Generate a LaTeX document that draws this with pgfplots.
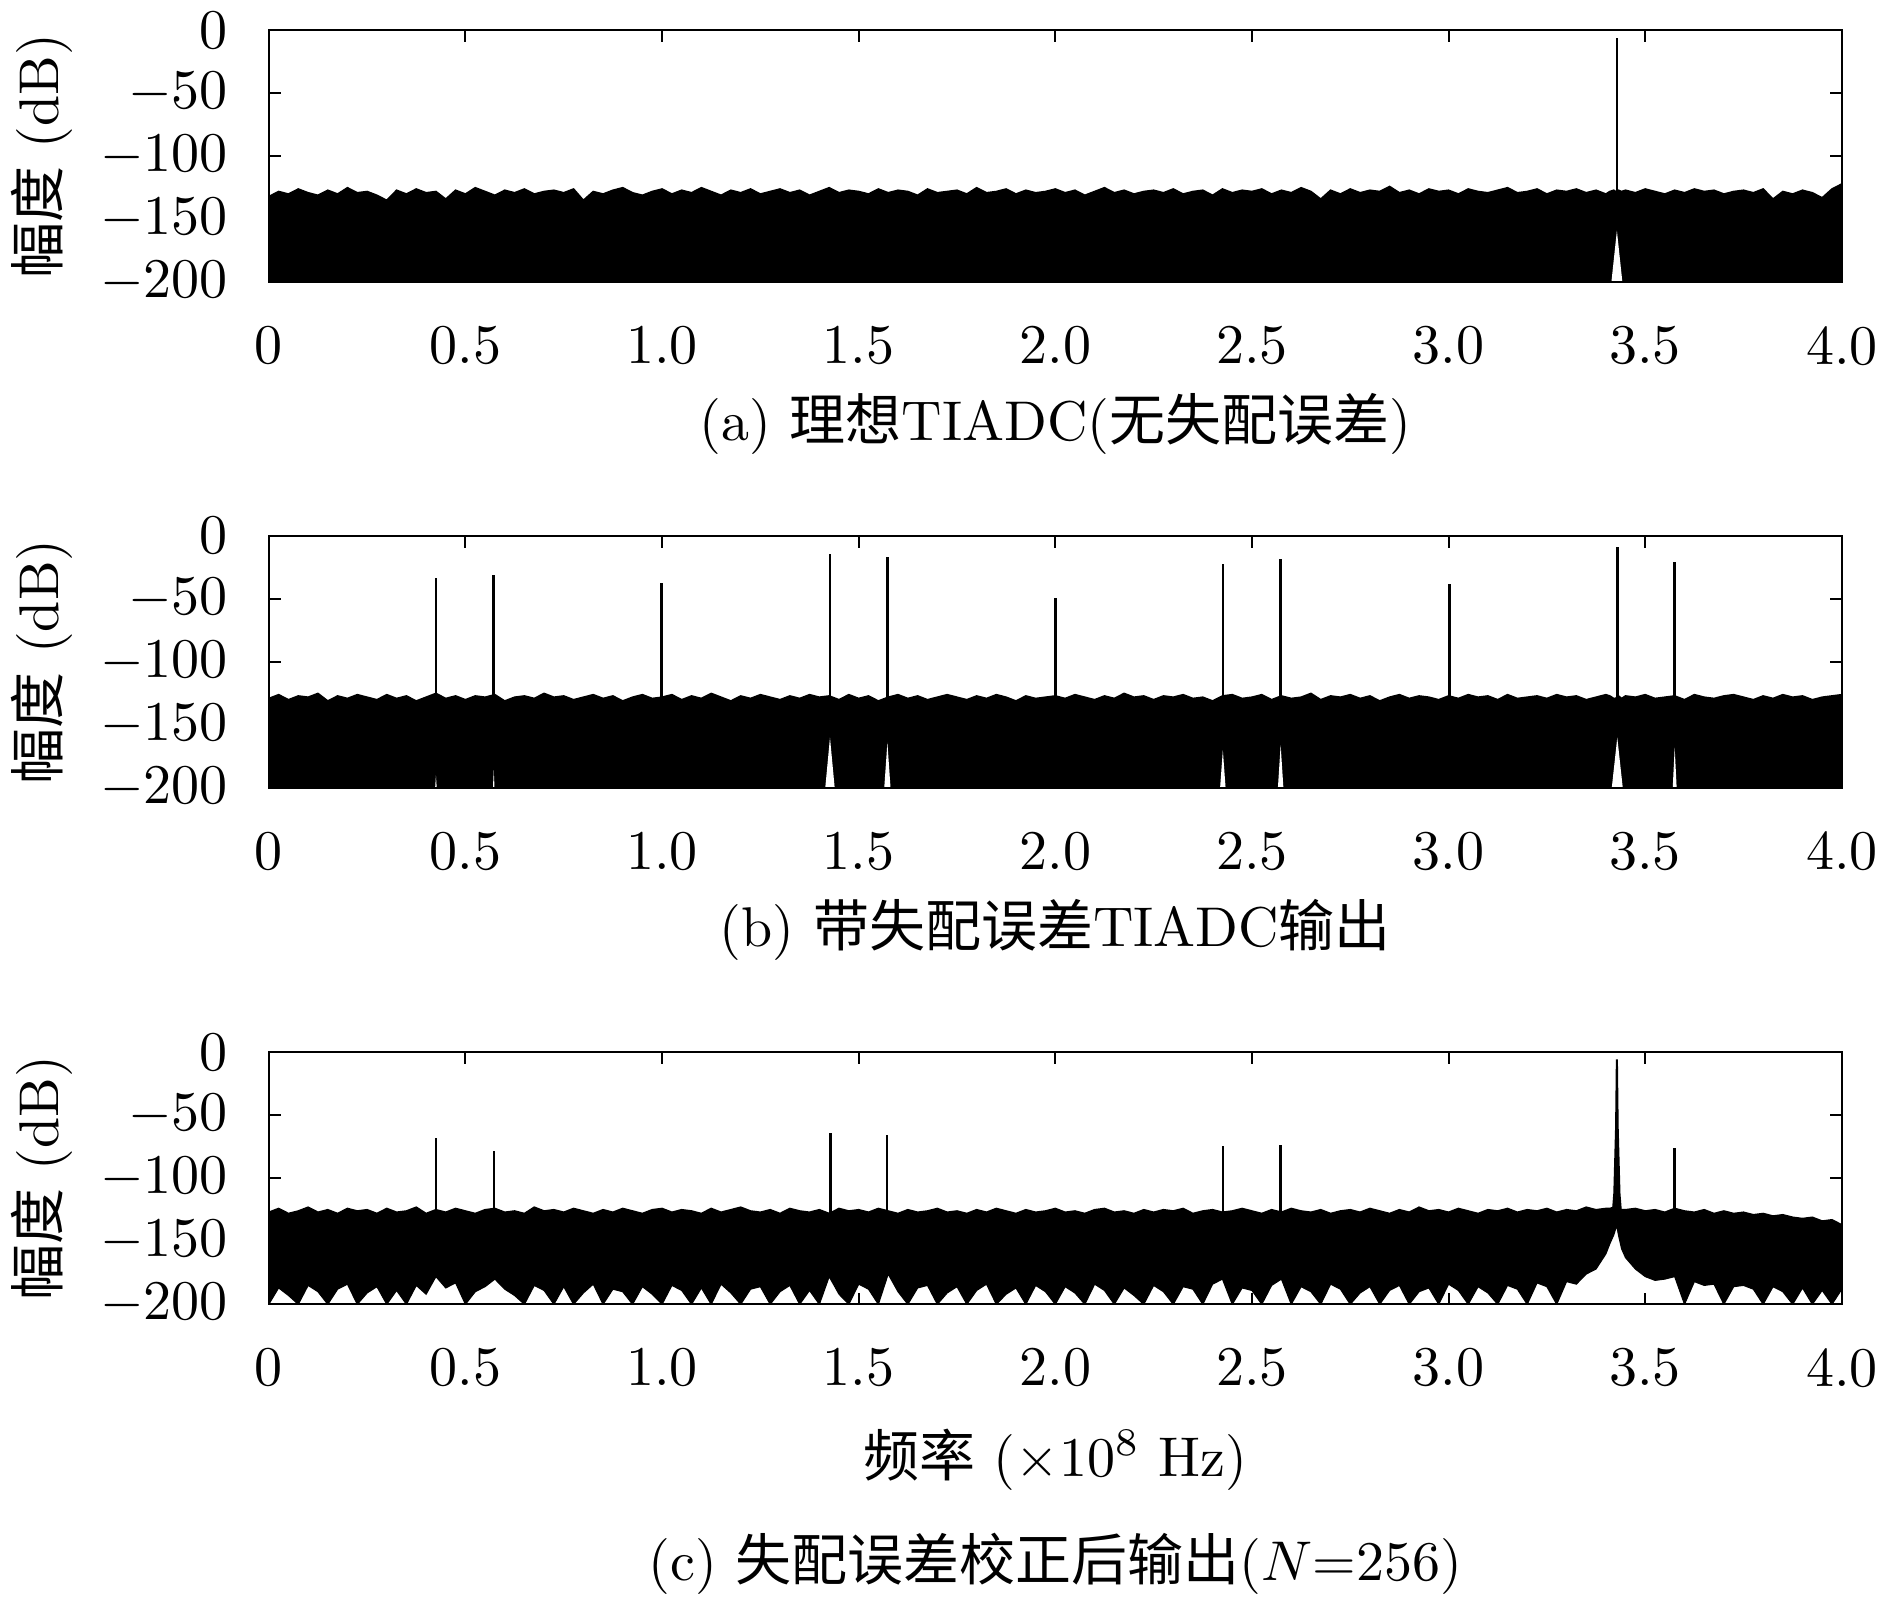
\documentclass[border=0pt]{standalone}
\usepackage{pgfplots}
\pgfplotsset{compat=1.18}
\usepackage{pgfplotstable}
\usepgfplotslibrary{fillbetween}
\usepackage{fontspec}
\newfontfamily\cjk{Noto Sans CJK SC}

\pgfplotstableread{
x ua ub uc lc
0 -132 -129 -127 -200
0.025 -128 -126 -124 -187
0.05 -130 -130 -128 -193
0.075 -126 -127 -126 -200
0.1 -129 -128 -123 -185
0.125 -131 -125 -127 -190
0.15 -127 -131 -125 -200
0.175 -130 -127 -128 -188
0.2 -125 -129 -124 -184
0.225 -129 -126 -126 -200
0.25 -128 -128 -125 -191
0.275 -131 -130 -128 -186
0.3 -135 -126 -124 -200
0.325 -127 -129 -127 -189
0.35 -130 -127 -126 -200
0.375 -126 -131 -123 -185
0.4 -129 -128 -128 -192
0.425 -128 -125 -125 -178
0.45 -134 -129 -127 -187
0.475 -127 -127 -124 -183
0.5 -130 -130 -126 -200
0.525 -125 -127 -128 -190
0.55 -128 -128 -125 -186
0.575 -131 -126 -124 -180
0.6 -127 -131 -127 -188
0.625 -129 -128 -126 -193
0.65 -126 -127 -128 -200
0.675 -130 -129 -123 -185
0.7 -128 -125 -126 -189
0.725 -127 -128 -125 -200
0.75 -129 -127 -127 -186
0.775 -126 -130 -124 -200
0.8 -135 -128 -126 -191
0.825 -128 -126 -128 -184
0.85 -130 -129 -125 -200
0.875 -127 -127 -127 -188
0.9 -125 -131 -124 -190
0.925 -129 -128 -126 -200
0.95 -131 -126 -128 -186
0.975 -128 -129 -125 -192
1 -126 -128 -124 -200
1.025 -130 -126 -127 -185
1.05 -127 -130 -125 -189
1.075 -129 -127 -126 -200
1.1 -125 -129 -128 -187
1.125 -128 -125 -124 -200
1.15 -131 -128 -127 -184
1.175 -127 -131 -125 -191
1.2 -129 -127 -123 -200
1.225 -126 -129 -126 -188
1.25 -130 -126 -127 -186
1.275 -128 -128 -125 -200
1.3 -126 -130 -128 -190
1.325 -129 -127 -124 -185
1.35 -127 -129 -126 -200
1.375 -131 -126 -127 -189
1.4 -128 -128 -125 -200
1.425 -125 -127 -128 -178
1.45 -129 -130 -124 -192
1.475 -127 -126 -126 -200
1.5 -128 -129 -125 -184
1.525 -130 -127 -127 -188
1.55 -126 -131 -124 -200
1.575 -129 -128 -126 -176
1.6 -127 -126 -128 -190
1.625 -128 -129 -125 -200
1.65 -131 -127 -127 -187
1.675 -126 -130 -126 -185
1.7 -129 -128 -124 -200
1.725 -128 -126 -127 -191
1.75 -127 -128 -126 -186
1.775 -130 -130 -128 -200
1.8 -125 -127 -125 -189
1.825 -129 -129 -127 -184
1.85 -128 -126 -124 -200
1.875 -126 -128 -126 -192
1.9 -130 -131 -128 -187
1.925 -127 -127 -125 -200
1.95 -129 -129 -127 -185
1.975 -128 -128 -126 -190
2 -126 -127 -124 -200
2.025 -129 -129 -127 -186
2.05 -127 -126 -126 -191
2.075 -131 -128 -128 -200
2.1 -128 -130 -125 -184
2.125 -125 -127 -124 -189
2.15 -129 -129 -127 -200
2.175 -127 -125 -126 -187
2.2 -130 -128 -128 -193
2.225 -128 -127 -125 -200
2.25 -127 -130 -127 -185
2.275 -129 -127 -125 -190
2.3 -126 -128 -126 -200
2.325 -130 -126 -124 -186
2.35 -128 -129 -128 -188
2.375 -127 -128 -126 -200
2.4 -131 -131 -125 -184
2.425 -126 -127 -127 -180
2.45 -129 -126 -126 -200
2.475 -127 -129 -124 -187
2.5 -128 -128 -126 -189
2.525 -126 -126 -128 -200
2.55 -130 -130 -125 -185
2.575 -127 -127 -127 -180
2.6 -129 -129 -124 -200
2.625 -125 -128 -126 -186
2.65 -128 -125 -127 -190
2.675 -134 -130 -125 -200
2.7 -127 -127 -128 -184
2.725 -130 -128 -126 -188
2.75 -126 -126 -125 -200
2.775 -129 -129 -127 -191
2.8 -127 -127 -124 -186
2.825 -128 -131 -126 -200
2.85 -124 -128 -128 -189
2.875 -129 -126 -125 -185
2.9 -127 -129 -127 -200
2.925 -130 -127 -123 -190
2.95 -126 -128 -126 -187
2.975 -128 -130 -125 -200
3 -127 -127 -127 -184
3.025 -130 -129 -124 -189
3.05 -126 -126 -126 -200
3.075 -128 -128 -128 -186
3.1 -129 -127 -125 -191
3.125 -127 -130 -126 -200
3.15 -125 -126 -124 -185
3.175 -129 -129 -127 -188
3.2 -128 -128 -125 -200
3.225 -126 -127 -126 -183
3.25 -130 -129 -124 -186
3.275 -127 -126 -127 -200
3.3 -128 -128 -125 -182
3.325 -126 -127 -126 -184
3.35 -129 -130 -123 -176
3.375 -127 -128 -125 -172
3.4 -130 -126 -124 -160
3.41 -128 -127 -124 -152
3.42 -127 -129 -123 -145
3.425 -128 -129 -126 -140
3.428 -129 -128 -122 -138
3.432 -127 -127 -124 -145
3.44 -128 -129 -125 -156
3.45 -127 -127 -125 -163
3.475 -129 -128 -124 -172
3.5 -126 -126 -126 -178
3.525 -128 -129 -125 -181
3.55 -130 -128 -127 -180
3.575 -127 -127 -124 -178
3.6 -129 -130 -126 -200
3.625 -126 -126 -127 -182
3.65 -128 -128 -125 -185
3.675 -127 -129 -128 -184
3.7 -130 -127 -126 -200
3.725 -128 -126 -128 -186
3.75 -127 -128 -127 -185
3.775 -129 -130 -129 -188
3.8 -126 -127 -128 -200
3.825 -134 -129 -130 -186
3.85 -128 -126 -129 -190
3.875 -130 -128 -131 -200
3.9 -127 -127 -132 -187
3.925 -129 -130 -131 -200
3.95 -133 -128 -134 -189
3.975 -126 -127 -133 -200
4 -122 -126 -137 -188
}\noise

\tikzset{spike/.style={black, line width=0.45pt}}

\pgfplotsset{
  spec/.style={
    scale only axis, width=280.9pt, height=45pt,
    xmin=0, xmax=4, ymin=-200, ymax=0,
    xtick={0,0.5,1,1.5,2,2.5,3,3.5,4},
    xticklabels={0,0.5,1.0,1.5,2.0,2.5,3.0,3.5,4.0},
    ytick={-200,-150,-100,-50,0},
    major tick length=2.1pt,
    axis on top,
    axis line style={line width=0.35pt},
    every tick/.style={black, line width=0.35pt},
    xticklabel style={yshift=-4.3pt},
    yticklabel style={xshift=-3.8pt},
    ylabel={{\cjk 幅度} (dB)},
    every axis y label/.style={at={([xshift=-40.5pt]axis description cs:0,0.5)}, rotate=90, anchor=center},
    every axis x label/.style={at={([yshift=-25.3pt]axis description cs:0.5,0)}, anchor=center},
  }
}

\begin{document}
\begin{tikzpicture}

% (a)
\begin{axis}[spec, at={(0,0)}, anchor=north west,
  xlabel={(a) {\cjk 理想}TIADC({\cjk 无失配误差})}]
\addplot[black, line width=0.3pt, name path=ua] table[x=x, y=ua] {\noise};
\addplot[draw=none, name path=bot] coordinates {(0,-200) (4,-200)};
\addplot[black] fill between[of=ua and bot];
\addplot[spike] coordinates {(3.428,-135) (3.428,-6)};
\addplot[fill=white, draw=none] coordinates {(3.414,-200) (3.428,-159) (3.442,-200)};
\end{axis}

% (b)
\begin{axis}[spec, at={(0,-90.3pt)}, anchor=north west,
  xlabel={(b) {\cjk 带失配误差}TIADC{\cjk 输出}}]
\addplot[black, line width=0.3pt, name path=ub] table[x=x, y=ub] {\noise};
\addplot[draw=none, name path=bot] coordinates {(0,-200) (4,-200)};
\addplot[black] fill between[of=ub and bot];
\addplot[spike] coordinates {(0.425,-135) (0.425,-33)};
\addplot[spike] coordinates {(0.572,-135) (0.572,-31)};
\addplot[spike] coordinates {(0.998,-135) (0.998,-37)};
\addplot[spike] coordinates {(1.427,-135) (1.427,-14)};
\addplot[spike] coordinates {(1.573,-135) (1.573,-17)};
\addplot[spike] coordinates {(2.000,-135) (2.000,-49)};
\addplot[spike] coordinates {(2.426,-135) (2.426,-22.5)};
\addplot[spike] coordinates {(2.573,-135) (2.573,-18.5)};
\addplot[spike] coordinates {(3.002,-135) (3.002,-38.3)};
\addplot[spike] coordinates {(3.429,-135) (3.429,-8.7)};
\addplot[spike] coordinates {(3.575,-135) (3.575,-20.8)};
\addplot[fill=white, draw=none] coordinates {(0.423,-200) (0.425,-190) (0.427,-200)};
\addplot[fill=white, draw=none] coordinates {(0.570,-200) (0.572,-186) (0.574,-200)};
\addplot[fill=white, draw=none] coordinates {(1.415,-200) (1.427,-160) (1.439,-200)};
\addplot[fill=white, draw=none] coordinates {(1.565,-200) (1.573,-164) (1.581,-200)};
\addplot[fill=white, draw=none] coordinates {(2.419,-200) (2.426,-170) (2.433,-200)};
\addplot[fill=white, draw=none] coordinates {(2.566,-200) (2.573,-166) (2.580,-200)};
\addplot[fill=white, draw=none] coordinates {(3.415,-200) (3.429,-160) (3.443,-200)};
\addplot[fill=white, draw=none] coordinates {(3.570,-200) (3.575,-168) (3.580,-200)};
\end{axis}

% (c)
\begin{axis}[spec, name=cax, at={(0,-182.5pt)}, anchor=north west,
  xlabel={{\cjk 频率} ($\times10^{8}$ Hz)},
  every axis x label/.style={at={([yshift=-27.7pt]axis description cs:0.5,0)}, anchor=center}]
\addplot[black, line width=0.3pt, name path=uc] table[x=x, y=uc] {\noise};
\addplot[black, line width=0.2pt, name path=lc] table[x=x, y=lc] {\noise};
\addplot[black] fill between[of=uc and lc];
\addplot[spike] coordinates {(0.425,-130) (0.425,-68)};
\addplot[spike] coordinates {(0.573,-130) (0.573,-78)};
\addplot[spike] coordinates {(1.428,-130) (1.428,-64)};
\addplot[spike] coordinates {(1.572,-130) (1.572,-66)};
\addplot[spike] coordinates {(2.427,-130) (2.427,-74)};
\addplot[spike] coordinates {(2.573,-130) (2.573,-73.6)};
\addplot[spike] coordinates {(3.575,-130) (3.575,-76)};
\addplot[fill=black, draw=black, line width=0.3pt] coordinates {(3.417,-128) (3.421,-112) (3.4255,-60) (3.4275,-6.3) (3.4285,-6.3) (3.4305,-60) (3.435,-112) (3.439,-128)};
\end{axis}
\node[anchor=center] at ([yshift=-46.4pt]cax.south) {(c) {\cjk 失配误差校正后输出}($N$=256)};
\pgfresetboundingbox
\path[use as bounding box] (-48pt,5.4pt) rectangle (289.5pt,-282.3pt);
\end{tikzpicture}
\end{document}
